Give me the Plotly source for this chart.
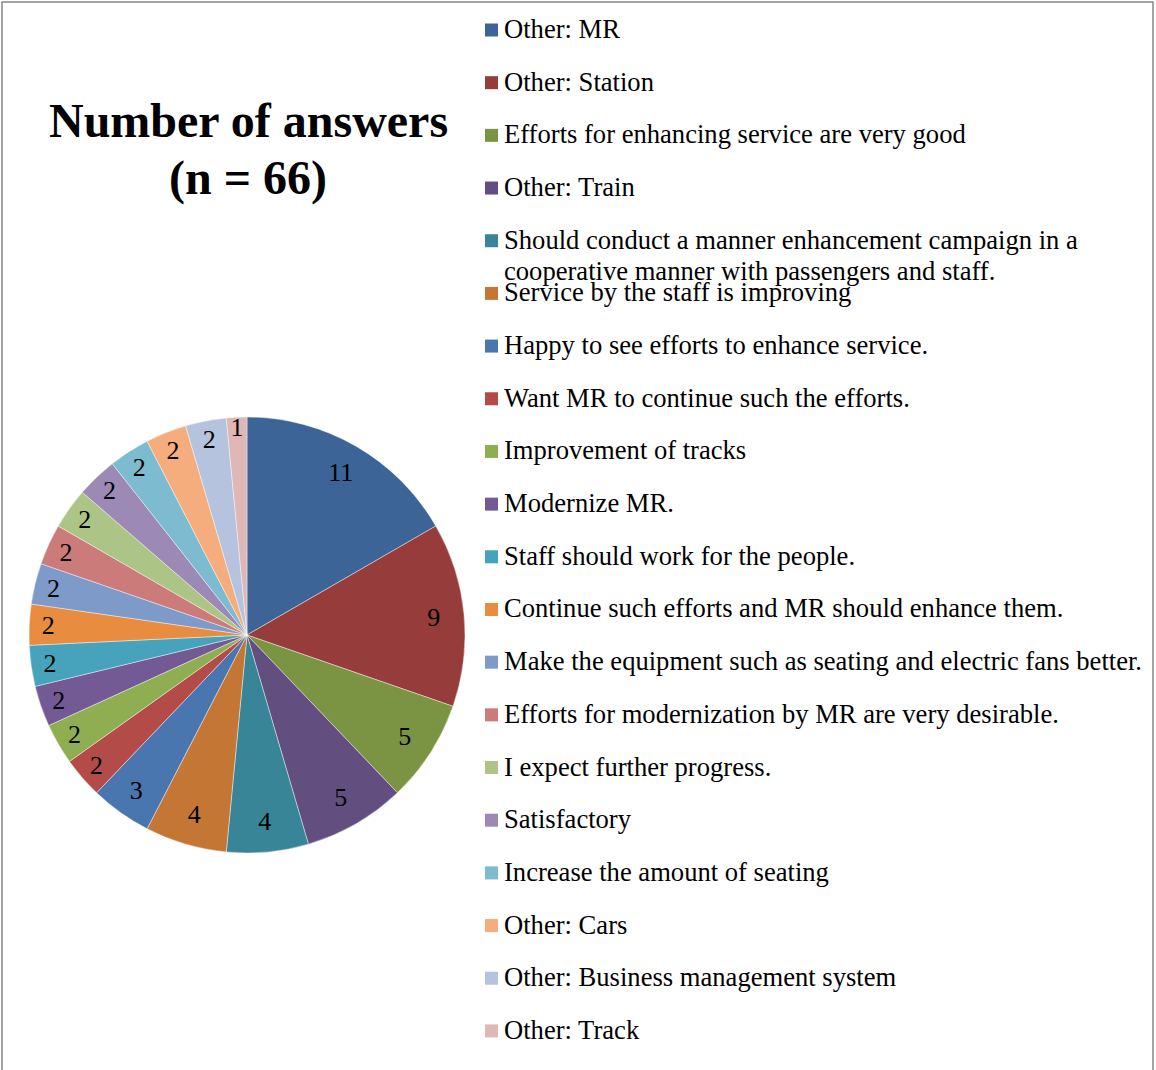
import plotly.graph_objects as go

# Survey answers and counts
categories = [
    "Other: MR",
    "Other: Station",
    "Efforts for enhancing service are very good",
    "Other: Train",
    "Should conduct a manner enhancement campaign in a<br>cooperative manner with passengers and staff.",
    "Service by the staff is improving",
    "Happy to see efforts to enhance service.",
    "Want MR to continue such the efforts.",
    "Improvement of tracks",
    "Modernize MR.",
    "Staff should work for the people.",
    "Continue such efforts and MR should enhance them.",
    "Make the equipment such as seating and electric fans better.",
    "Efforts for modernization by MR are very desirable.",
    "I expect further progress.",
    "Satisfactory",
    "Increase the amount of seating",
    "Other: Cars",
    "Other: Business management system",
    "Other: Track",
]
counts = [11, 9, 5, 5, 4, 4, 3, 2, 2, 2, 2, 2, 2, 2, 2, 2, 2, 2, 2, 1]

colors = [
    "#3C6496", "#963C3B", "#7A9443", "#634E80", "#388598",
    "#C47735", "#4A76B0", "#B34B49", "#8FAE51", "#735A95",
    "#46A3BB", "#E88C3F", "#7E9AC8", "#CA7B7A", "#ACC486",
    "#9D89B5", "#7DBBD0", "#F6AD7D", "#B5C3DE", "#DFB7B7",
]

title_lines = ["Number of answers", "(n = 66)"]

W, H = 1156, 1070
SERIF = "Liberation Serif, Times New Roman, serif"

# pie placement (pixels)
cx, cy, r = 247, 635, 218
domain = dict(
    x=[(cx - r) / W, (cx + r) / W],
    y=[(H - cy - r) / H, (H - cy + r) / H],
)

fig = go.Figure()

# coloured wedges
fig.add_trace(go.Pie(
    labels=categories,
    values=counts,
    sort=False,
    direction="clockwise",
    rotation=0,
    marker=dict(colors=colors, line=dict(color="rgba(255,255,255,0.7)", width=0.6)),
    textinfo="none",
    showlegend=False,
    hoverinfo="label+value",
    domain=domain,
))

# value labels, placed in an outer ring near the rim of each wedge
fig.add_trace(go.Pie(
    labels=categories,
    values=counts,
    sort=False,
    direction="clockwise",
    rotation=0,
    hole=0.72,
    marker=dict(colors=["rgba(0,0,0,0)"] * len(counts), line=dict(width=0)),
    textinfo="value",
    textposition="inside",
    insidetextorientation="horizontal",
    textfont=dict(family=SERIF, size=26, color="black"),
    showlegend=False,
    hoverinfo="skip",
    domain=domain,
))

annotations = []
shapes = []

# chart title
for i, line in enumerate(title_lines):
    annotations.append(dict(
        text=f"<b>{line}</b>", x=248 / W, y=1 - (120 + i * 58) / H,
        xref="paper", yref="paper", xanchor="center", yanchor="middle",
        showarrow=False, font=dict(family=SERIF, size=48, color="black"),
    ))

# legend on the right: colour square + label per slice
row0, step = 29, 52.68
for i, (lab, col) in enumerate(zip(categories, colors)):
    yc = row0 + i * step
    shapes.append(dict(
        type="rect", xref="paper", yref="paper",
        x0=485 / W, x1=498 / W, y0=1 - (yc - 5.5) / H, y1=1 - (yc + 7.5) / H,
        fillcolor=col, line=dict(width=0),
    ))
    for j, part in enumerate(lab.split("<br>")):
        annotations.append(dict(
            text=part, x=502 / W, y=1 - (yc + j * 31) / H,
            xref="paper", yref="paper", xanchor="left", yanchor="middle",
            showarrow=False, font=dict(family=SERIF, size=26.6, color="black"),
        ))

# outer frame
shapes.append(dict(
    type="rect", xref="paper", yref="paper",
    x0=2 / W, x1=1153 / W, y0=1 - 2 / H, y1=-0.01,
    line=dict(color="#868686", width=1.5), fillcolor="rgba(0,0,0,0)",
))

fig.update_layout(
    width=W, height=H,
    margin=dict(l=0, r=0, t=0, b=0),
    paper_bgcolor="white", plot_bgcolor="white",
    annotations=annotations, shapes=shapes,
    uniformtext=dict(minsize=26, mode="show"),
)

fig.write_html("out.html")
